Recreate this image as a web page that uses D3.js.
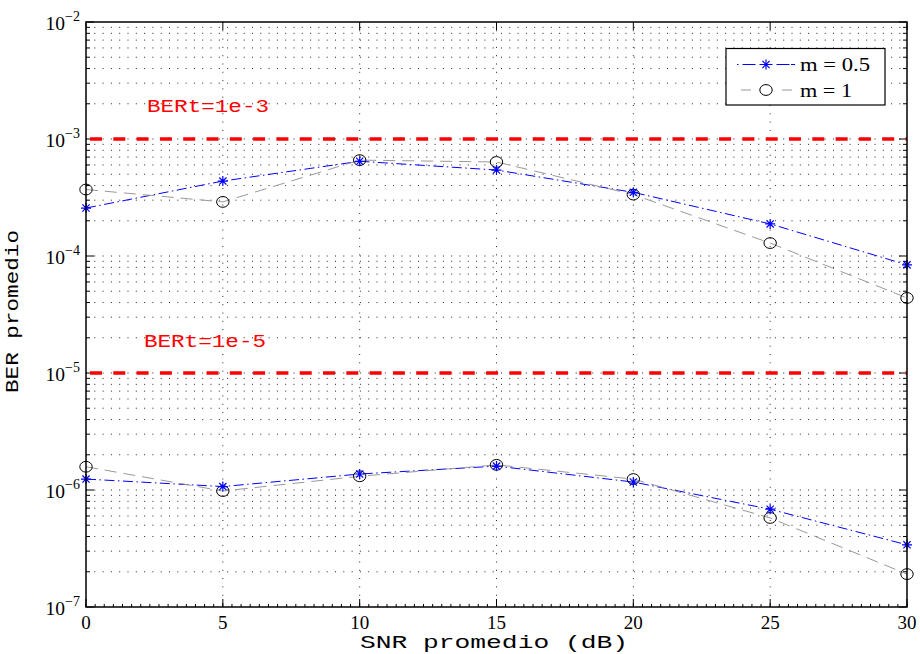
<!DOCTYPE html>
<html><head><meta charset="utf-8">
<script src="https://cdn.jsdelivr.net/npm/d3@7"></script>
<style>body{margin:0;background:#fff}svg{display:block}</style>
</head><body>
<svg id="c" width="920" height="654"></svg>
<script>
const snr = [0, 5, 10, 15, 20, 25, 30];
const m05_hi = [2.57e-4, 4.37e-4, 6.45e-4, 5.43e-4, 3.5e-4, 1.88e-4, 8.4e-5];
const m1_hi  = [3.7e-4, 2.9e-4, 6.6e-4, 6.36e-4, 3.35e-4, 1.29e-4, 4.38e-5];
const m05_lo = [1.24e-6, 1.07e-6, 1.37e-6, 1.6e-6, 1.17e-6, 6.85e-7, 3.4e-7];
const m1_lo  = [1.58e-6, 9.8e-7, 1.31e-6, 1.64e-6, 1.24e-6, 5.77e-7, 1.91e-7];
const thresholds = [1e-3, 1e-5];
const thresholdLabels = ["BERt=1e-3", "BERt=1e-5"];
const xTicks = [0, 5, 10, 15, 20, 25, 30];
const yDecades = [-7, -6, -5, -4, -3, -2];
const legendLabels = ["m = 0.5", "m = 1"];

const L = 86, R = 907, T = 22, B = 607;
const svg = d3.select("#c");
const x = d3.scaleLinear().domain([0, 30]).range([L, R]);
const y = d3.scaleLog().domain([1e-7, 1e-2]).range([B, T]);

// grid
const g = svg.append("g");
const yGrid = [];
for (let e = -7; e < -2; e++) for (let k = 1; k <= 9; k++) yGrid.push(k * Math.pow(10, e));
g.selectAll("line.hg").data(yGrid.filter(v => v > 1e-7 && v < 1e-2)).enter().append("line")
  .attr("x1", L).attr("x2", R).attr("y1", d => y(d)).attr("y2", d => y(d))
  .attr("stroke", "#222").attr("stroke-width", 1).attr("stroke-dasharray", "1,7.3");
g.selectAll("line.vg").data(xTicks.slice(1, -1)).enter().append("line")
  .attr("x1", d => x(d)).attr("x2", d => x(d)).attr("y1", T).attr("y2", B)
  .attr("stroke", "#222").attr("stroke-width", 1).attr("stroke-dasharray", "1,7.3");

// ticks
const minorY = yGrid.filter(v => v > 1e-7 && v < 1e-2 && Math.abs(Math.log10(v) - Math.round(Math.log10(v))) > 1e-6);
const ticks = svg.append("g").attr("stroke", "#000").attr("stroke-width", 1);
minorY.forEach(v => {
  ticks.append("line").attr("x1", L).attr("x2", L + 4).attr("y1", y(v)).attr("y2", y(v));
  ticks.append("line").attr("x1", R).attr("x2", R - 4).attr("y1", y(v)).attr("y2", y(v));
});
yDecades.forEach(e => {
  const v = Math.pow(10, e);
  ticks.append("line").attr("x1", L).attr("x2", L + 8).attr("y1", y(v)).attr("y2", y(v));
  ticks.append("line").attr("x1", R).attr("x2", R - 8).attr("y1", y(v)).attr("y2", y(v));
});
const xMinor = d3.range(0, 30.001, 1 / 3);
xMinor.forEach(v => {
  ticks.append("line").attr("x1", x(v)).attr("x2", x(v)).attr("y1", B).attr("y2", B - 3);
});
xTicks.forEach(v => {
  ticks.append("line").attr("x1", x(v)).attr("x2", x(v)).attr("y1", B).attr("y2", B - 8);
  ticks.append("line").attr("x1", x(v)).attr("x2", x(v)).attr("y1", T).attr("y2", T + 8);
});

// threshold lines
svg.selectAll("line.th").data(thresholds).enter().append("line")
  .attr("x1", L + 4).attr("x2", R).attr("y1", d => y(d)).attr("y2", d => y(d))
  .attr("stroke", "#ff0000").attr("stroke-width", 3.5).attr("stroke-dasharray", "12,11.3");
svg.selectAll("text.th").data(thresholdLabels).enter().append("text")
  .attr("x", (d, i) => i === 0 ? 147 : 144)
  .attr("y", (d, i) => i === 0 ? 112 : 346.5)
  .attr("fill", "#ff0000").attr("font-family", "Liberation Mono, monospace").attr("font-size", 18)
  .attr("textLength", 122).attr("lengthAdjust", "spacingAndGlyphs").text(d => d);

// series
const line = d3.line().x((d, i) => x(snr[i])).y(d => y(d));
const blueStyle = {stroke: "#0000ff", dash: "10,3.5,1.5,3.5"};
const grayStyle = {stroke: "#999", dash: "12,7"};
[[m05_hi, blueStyle], [m05_lo, blueStyle], [m1_hi, grayStyle], [m1_lo, grayStyle]].forEach(([data, st]) => {
  svg.append("path").attr("d", line(data)).attr("fill", "none")
    .attr("stroke", st.stroke).attr("stroke-width", 1).attr("stroke-dasharray", st.dash);
});
function star(sel, cx, cy) {
  const r = 5, d = 3.6;
  sel.append("path").attr("d",
    `M${cx - r},${cy}L${cx + r},${cy}M${cx},${cy - r}L${cx},${cy + r}M${cx - d},${cy - d}L${cx + d},${cy + d}M${cx - d},${cy + d}L${cx + d},${cy - d}`)
    .attr("stroke", "#0000ff").attr("stroke-width", 1.2).attr("fill", "none");
}
function circ(sel, cx, cy) {
  sel.append("ellipse").attr("cx", cx).attr("cy", cy).attr("rx", 6.2).attr("ry", 5.4)
    .attr("fill", "none").attr("stroke", "#000").attr("stroke-width", 1);
}
const mk = svg.append("g");
[m1_hi, m1_lo].forEach(arr => arr.forEach((v, i) => circ(mk, x(snr[i]), y(v))));
[m05_hi, m05_lo].forEach(arr => arr.forEach((v, i) => star(mk, x(snr[i]), y(v))));

// axes box
svg.append("rect").attr("x", L).attr("y", T).attr("width", R - L).attr("height", B - T)
  .attr("fill", "none").attr("stroke", "#000").attr("stroke-width", 1.5);

// tick labels
const fontSerif = "Liberation Serif, Times New Roman, serif";
svg.selectAll("text.xt").data(xTicks).enter().append("text")
  .attr("x", d => x(d)).attr("y", 629).attr("text-anchor", "middle")
  .attr("font-family", fontSerif).attr("font-size", 19).text(d => d);
const yl = svg.selectAll("text.yt").data(yDecades).enter().append("text")
  .attr("x", 80).attr("y", d => y(Math.pow(10, d)) + 7.5).attr("text-anchor", "end")
  .attr("font-family", fontSerif).attr("font-size", 19.5);
yl.append("tspan").text("10");
yl.append("tspan").attr("dy", -8.6).attr("font-size", 14).text(d => "\u2212" + (-d));

// axis labels
svg.append("text").attr("x", 360).attr("y", 648).attr("font-family", "Liberation Mono, monospace")
  .attr("font-size", 18).attr("textLength", 268).attr("lengthAdjust", "spacingAndGlyphs")
  .text("SNR promedio (dB)");
svg.append("text").attr("transform", "translate(18,393) rotate(-90)")
  .attr("font-family", "Liberation Mono, monospace").attr("font-size", 18.5)
  .attr("textLength", 163).attr("lengthAdjust", "spacingAndGlyphs").text("BER promedio");

// legend
const lg = svg.append("g");
lg.append("rect").attr("x", 726).attr("y", 48.5).attr("width", 159).attr("height", 56.5)
  .attr("fill", "#fff").attr("stroke", "#000").attr("stroke-width", 1.2);
const legY = [64.5, 90];
lg.append("line").attr("x1", 737).attr("x2", 795).attr("y1", legY[0]).attr("y2", legY[0])
  .attr("stroke", blueStyle.stroke).attr("stroke-dasharray", "1.5,4,13,4,13,4,13")
  .attr("stroke-width", 1);
star(lg, 766, legY[0]);
lg.append("line").attr("x1", 741).attr("x2", 792).attr("y1", legY[1]).attr("y2", legY[1])
  .attr("stroke", "#bbb").attr("stroke-dasharray", "10,31").attr("stroke-width", 1.5);
circ(lg, 766, legY[1]);
lg.selectAll("text.lt").data(legendLabels).enter().append("text")
  .attr("x", 800).attr("y", (d, i) => legY[i] + 6.5)
  .attr("font-family", fontSerif).attr("font-size", 19)
  .attr("textLength", (d, i) => i === 0 ? 70 : 52).attr("lengthAdjust", "spacingAndGlyphs")
  .text(d => d);
</script>
</body></html>
